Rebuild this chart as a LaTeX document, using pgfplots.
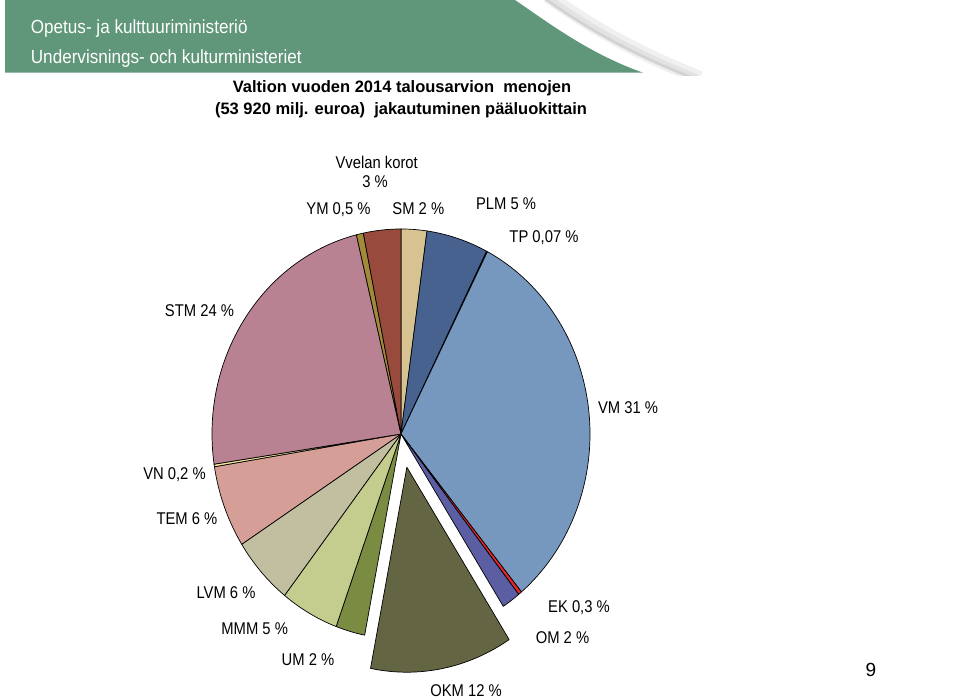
\documentclass[border=0pt]{standalone}
\usepackage{fontspec}
\setmainfont{Liberation Sans}
\newfontfamily\labfont[FakeStretch=0.87]{Liberation Sans}
\newfontfamily\banfont[FakeStretch=0.9]{Liberation Sans}
\usepackage{pgfplots}
\usepackage{pgfplotstable}
\pgfplotsset{compat=1.18}

\definecolor{banner}{HTML}{60967A}
\definecolor{cSM}{HTML}{D7C292}
\definecolor{cPLM}{HTML}{47628F}
\definecolor{cTP}{HTML}{2F4F7F}
\definecolor{cVM}{HTML}{7698BF}
\definecolor{cEK}{HTML}{E3262B}
\definecolor{cOM}{HTML}{5B5EA3}
\definecolor{cOKM}{HTML}{646643}
\definecolor{cUM}{HTML}{7A8B42}
\definecolor{cMMM}{HTML}{C4CC8E}
\definecolor{cLVM}{HTML}{C1BF9F}
\definecolor{cTEM}{HTML}{D59F97}
\definecolor{cVN}{HTML}{F5E8A0}
\definecolor{cSTM}{HTML}{B98292}
\definecolor{cYM}{HTML}{A18B3B}
\definecolor{cVK}{HTML}{984B3C}

% slices clockwise from 12 o'clock: name, percent, colour, explode
\pgfplotstableread{
name pct col ex
SM   2.2  cSM  0
PLM  5.3  cPLM 0
TP   0.07 cTP  0
VM   31.5 cVM  0
EK   0.3  cEK  0
OM   1.6  cOM  0
OKM  12.2 cOKM 0.165
UM   2.5  cUM  0
MMM  5.0  cMMM 0
LVM  5.4  cLVM 0
TEM  6.5  cTEM 0
VN   0.2  cVN  0
STM  23.6 cSTM 0
YM   0.6  cYM  0
VK   3.2  cVK  0
}\piedata

\begin{document}
\begin{tikzpicture}[x=1bp,y=1bp]
\useasboundingbox (0,0) rectangle (960,700);
% banner
\begin{scope}
\clip (0,624) rectangle (960,700);
\draw[gray!12,line width=14bp] (548,704) .. controls (585,678) and (625,652) .. (700,622);
\draw[gray!22,line width=7bp] (545,704) .. controls (582,678) and (622,652) .. (697,622);
\draw[gray!35,line width=2.5bp] (541,704) .. controls (578,678) and (618,652) .. (693,622);
\end{scope}
\fill[banner] (5,700) -- (515,700) .. controls (550,676) and (590,646) .. (643,627.3) -- (5,627.3) -- cycle;
\node[anchor=base west,text=white,inner sep=0pt,font=\banfont\fontsize{19bp}{22bp}\selectfont] at (30.7,666.7) {Opetus- ja kulttuuriministeriö};
\node[anchor=base west,text=white,inner sep=0pt,font=\banfont\fontsize{19bp}{22bp}\selectfont] at (30.7,636.7) {Undervisnings- och kulturministeriet};
% title
\node[anchor=base,inner sep=0pt,font=\bfseries\fontsize{16.5bp}{19bp}\selectfont] at (402,607.3) {Valtion vuoden 2014 talousarvion\ \ menojen};
\node[anchor=base,inner sep=0pt,font=\bfseries\fontsize{16.5bp}{19bp}\selectfont] at (401,585) {(53 920 milj. euroa)\ \ jakautuminen pääluokittain};

\begin{axis}[at={(401bp,266bp)}, anchor=origin, x=189bp, y=205bp,
  xmin=-1.2, xmax=1.2, ymin=-1.2, ymax=1.2, hide axis, clip=false]
\pgfplotstablegetrowsof{\piedata}
\pgfmathtruncatemacro\nrows{\pgfplotsretval-1}
\def\pieTotal{0}
\pgfplotsforeachungrouped \i in {0,...,\nrows}{%
  \pgfplotstablegetelem{\i}{pct}\of\piedata
  \pgfmathsetmacro\pieTotal{\pieTotal+\pgfplotsretval}}
\pgfmathsetmacro\degPer{360/\pieTotal}
\def\pieCum{0}
\pgfplotsforeachungrouped \i in {0,...,\nrows}{%
  \pgfplotstablegetelem{\i}{pct}\of\piedata \let\slP\pgfplotsretval
  \pgfplotstablegetelem{\i}{col}\of\piedata \let\slC\pgfplotsretval
  \pgfplotstablegetelem{\i}{ex}\of\piedata \let\slE\pgfplotsretval
  \pgfmathsetmacro\aA{90-\degPer*\pieCum}
  \pgfmathsetmacro\pieCum{\pieCum+\slP}
  \pgfmathsetmacro\aB{90-\degPer*\pieCum}
  \pgfmathsetmacro\aM{(\aA+\aB)/2}
  \pgfmathsetmacro\ox{\slE*cos(\aM)}
  \pgfmathsetmacro\oy{\slE*sin(\aM)}
  \pgfmathsetmacro\sx{\ox+cos(\aA)}
  \pgfmathsetmacro\sy{\oy+sin(\aA)}
  \edef\next{\noexpand\filldraw[fill=\slC,draw=black,line width=0.7bp,line join=round]
    (axis cs:\ox,\oy) -- (axis cs:\sx,\sy)
    arc[start angle=\aA,end angle=\aB,x radius=189bp,y radius=205bp] -- cycle;}%
  \next
}
\end{axis}

% labels
\tikzset{lab/.style={anchor=base,inner sep=0pt,font=\labfont\fontsize{17bp}{20bp}\selectfont}}
\node[lab] at (376.7,531.7) {Vvelan korot};
\node[lab] at (375,512.3) {3 \%};
\node[lab] at (338.5,485) {YM 0,5 \%};
\node[lab] at (418.3,485) {SM 2 \%};
\node[lab] at (506,490) {PLM 5 \%};
\node[lab] at (544,457.3) {TP 0,07 \%};
\node[lab] at (199.5,383.3) {STM 24 \%};
\node[lab] at (628,286) {VM 31 \%};
\node[lab] at (174.5,220.7) {VN 0,2 \%};
\node[lab] at (187,175) {TEM 6 \%};
\node[lab] at (226,101.7) {LVM 6 \%};
\node[lab] at (254.7,65.7) {MMM 5 \%};
\node[lab] at (308,34) {UM 2 \%};
\node[lab] at (466,3) {OKM 12 \%};
\node[lab] at (579,87.3) {EK 0,3 \%};
\node[lab] at (562.5,56.7) {OM 2 \%};
\node[anchor=base,inner sep=0pt,font=\fontsize{19bp}{22bp}\selectfont] at (871,23) {9};
\end{tikzpicture}
\end{document}
